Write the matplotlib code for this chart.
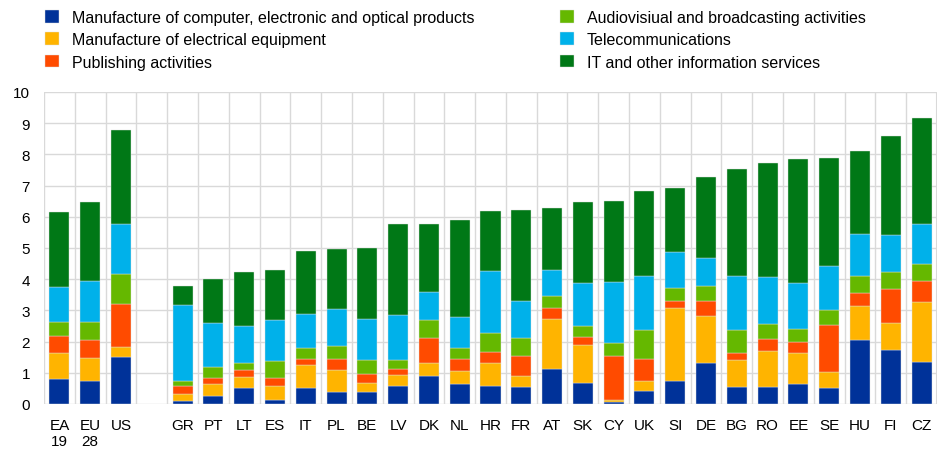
import numpy as np
import matplotlib
matplotlib.use('Agg')
import matplotlib.pyplot as plt

plt.rcParams['font.family'] = ['Liberation Sans', 'DejaVu Sans']

# categories (blank slot after US)
regions = ['EA\n19', 'EU\n28', 'US']
countries = ['GR', 'PT', 'LT', 'ES', 'IT', 'PL', 'BE', 'LV', 'DK', 'NL', 'HR', 'FR',
             'AT', 'SK', 'CY', 'UK', 'SI', 'DE', 'BG', 'RO', 'EE', 'SE', 'HU', 'FI', 'CZ']

series = ['Manufacture of computer, electronic and optical products',
          'Manufacture of electrical equipment',
          'Publishing activities',
          'Audiovisiual and broadcasting activities',
          'Telecommunications',
          'IT and other information services']
colors = ['#003299', '#FFB400', '#FF4B00', '#65B800', '#00B1EA', '#007816']

computer = [0.81, 0.74, 1.50,
            0.11, 0.25, 0.50, 0.14, 0.50, 0.38, 0.38, 0.57, 0.89, 0.63, 0.57, 0.55,
            1.11, 0.68, 0.06, 0.43, 0.73, 1.33, 0.54, 0.54, 0.63, 0.50, 2.05, 1.74, 1.36]
electrical = [0.81, 0.72, 0.33,
              0.22, 0.38, 0.38, 0.45, 0.74, 0.70, 0.28, 0.35, 0.41, 0.43, 0.74, 0.34,
              1.61, 1.21, 0.08, 0.32, 2.34, 1.49, 0.87, 1.16, 0.99, 0.53, 1.08, 0.85, 1.91]
publishing = [0.56, 0.60, 1.36,
              0.24, 0.21, 0.22, 0.24, 0.20, 0.36, 0.29, 0.19, 0.81, 0.39, 0.35, 0.66,
              0.36, 0.26, 1.41, 0.70, 0.23, 0.49, 0.22, 0.39, 0.36, 1.51, 0.44, 1.11, 0.68]
audiovisual = [0.45, 0.57, 0.99,
               0.18, 0.35, 0.21, 0.55, 0.36, 0.41, 0.46, 0.30, 0.58, 0.34, 0.60, 0.57,
               0.37, 0.34, 0.41, 0.91, 0.41, 0.47, 0.73, 0.48, 0.43, 0.48, 0.54, 0.54, 0.55]
telecom = [1.11, 1.30, 1.58,
           2.43, 1.41, 1.18, 1.31, 1.10, 1.18, 1.32, 1.43, 0.90, 1.01, 2.00, 1.18,
           0.84, 1.38, 1.96, 1.73, 1.16, 0.89, 1.73, 1.49, 1.46, 1.40, 1.35, 1.17, 1.27]
it_services = [2.40, 2.53, 3.02,
               0.60, 1.40, 1.75, 1.61, 2.00, 1.95, 2.26, 2.92, 2.18, 3.09, 1.91, 2.92,
               1.99, 2.59, 2.59, 2.74, 2.05, 2.62, 3.44, 3.67, 3.99, 3.46, 2.64, 3.18, 3.39]

labels = regions + countries
data = [computer, electrical, publishing, audiovisual, telecom, it_services]
x = np.array(list(range(len(regions))) + list(range(len(regions) + 1, len(labels) + 1)))

fig = plt.figure(figsize=(9.38, 4.52), dpi=100)
ax = fig.add_axes([44/938, 47/452, 893/938, 312/452])

bottom = np.zeros(len(labels))
handles = []
for vals, name, col in zip(data, series, colors):
    vals = np.array(vals)
    b = ax.bar(x, vals, 0.65, bottom=bottom, color=col, label=name,
               edgecolor='#e0e0e0', linewidth=0.3, zorder=3)
    handles.append(b)
    bottom += vals

ax.set_xlim(-0.5, len(labels) + 0.5)
ax.set_ylim(0, 10)
ax.set_yticks(range(0, 11))
ax.set_xticks(x)
ax.set_xticklabels(labels, fontsize=11, linespacing=1.2)
ax.set_xticks(np.arange(0.5, len(labels) + 0.5, 1), minor=True)
ax.tick_params(axis='both', which='both', length=0, labelsize=11)
ax.tick_params(axis='x', pad=10)
ax.tick_params(axis='y', pad=10)
ax.grid(True, axis='y', color='#d9d9d9', linewidth=1, zorder=0)
ax.grid(True, axis='x', which='minor', color='#d9d9d9', linewidth=1, zorder=0)
for s in ax.spines.values():
    s.set_visible(False)
ax.axvline(-0.5, color='#d9d9d9', linewidth=1, zorder=0)
ax.axvline(len(labels) + 0.5, color='#d9d9d9', linewidth=1.5, zorder=0)

fig.legend(handles=handles, loc='upper left', bbox_to_anchor=(34/938, 1.0), ncol=2,
           frameon=False, fontsize=11.5, handlelength=0.85, handleheight=0.85,
           handletextpad=0.8, columnspacing=5.4, labelspacing=0.45,
           borderaxespad=0.3)

fig.savefig('out.png', dpi=100)
